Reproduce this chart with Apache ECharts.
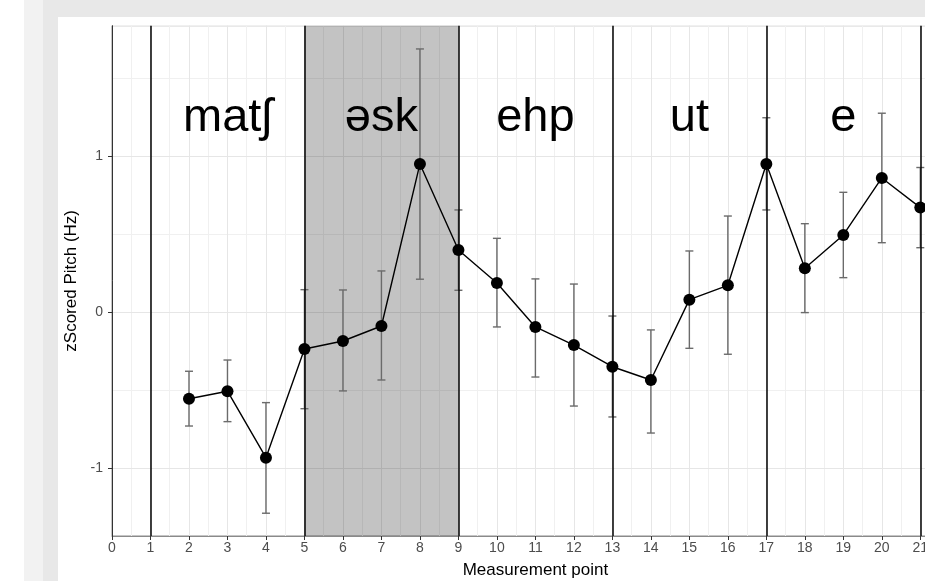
<!DOCTYPE html>
<html>
<head>
<meta charset="utf-8">
<script src="https://cdn.jsdelivr.net/npm/echarts@6/dist/echarts.min.js"></script>
<style>
  html, body { margin: 0; padding: 0; width: 925px; height: 581px; overflow: hidden; background: #ffffff; }
  #bg1 { position: absolute; left: 24px; top: 0; width: 901px; height: 581px; background: #f2f2f2; }
  #bg2 { position: absolute; left: 43px; top: 0; width: 882px; height: 581px; background: #e8e8e8; }
  #chart { position: absolute; left: 58px; top: 17px; width: 915px; height: 564px; background: #ffffff; }
</style>
</head>
<body>
<div id="bg1"></div>
<div id="bg2"></div>
<div id="chart"></div>
<script>
// ---- data ----
const measurementPoints = [2, 3, 4, 5, 6, 7, 8, 9, 10, 11, 12, 13, 14, 15, 16, 17, 18, 19, 20, 21];
const pitchMean = [-0.556, -0.508, -0.934, -0.237, -0.186, -0.090, 0.949, 0.397, 0.186, -0.096,
                   -0.212, -0.351, -0.436, 0.079, 0.171, 0.949, 0.280, 0.494, 0.859, 0.669];
const errHigh = [-0.380, -0.308, -0.581, 0.143, 0.141, 0.263, 1.686, 0.654, 0.472, 0.212,
                 0.179, -0.026, -0.115, 0.391, 0.615, 1.245, 0.566, 0.767, 1.274, 0.926];
const errLow = [-0.731, -0.703, -1.290, -0.620, -0.506, -0.436, 0.210, 0.139, -0.096, -0.417,
                -0.603, -0.673, -0.776, -0.233, -0.271, 0.654, -0.004, 0.220, 0.444, 0.412];
const boundaries = [1, 5, 9, 13, 17, 21];
const shadedSpan = [5, 9];
const syllables = ['matʃ', 'əsk', 'ehp', 'ut', 'e'];
const syllableX = [3, 7, 11, 15, 19];
const syllableY = [1.245, 1.245, 1.245, 1.245, 1.245];
const yTickValues = [-1, 0, 1];
const xRange = [0, 22];
const yRange = [-1.436, 1.835];

const FONT = "'Liberation Sans', Arial, Helvetica, sans-serif";

const chart = echarts.init(document.getElementById('chart'), null, { renderer: 'canvas' });

const lineData = measurementPoints.map((x, i) => [x, pitchMean[i]]);
const errData = measurementPoints.map((x, i) => [x, errLow[i], errHigh[i]]);
const labelData = syllables.map((s, i) => [syllableX[i], syllableY[i], s]);

const option = {
  animation: false,
  backgroundColor: '#ffffff',
  grid: {
    left: 54, right: 14.2, top: 8.7, bottom: 45,
    show: true, borderColor: '#8a8a8a', borderWidth: 1, backgroundColor: 'transparent',
    containLabel: false, outerBoundsMode: 'none'
  },
  xAxis: [{
    type: 'value', min: xRange[0], max: xRange[1], interval: 1,
    name: 'Measurement point', nameLocation: 'middle', nameGap: 26,
    nameTextStyle: { fontFamily: FONT, fontSize: 17, color: '#000000' },
    axisLine: { show: true, onZero: false, lineStyle: { color: '#8a8a8a', width: 1 } },
    axisTick: { show: true, length: 4, lineStyle: { color: '#333333', width: 1 } },
    axisLabel: { show: true, margin: 5, fontFamily: FONT, fontSize: 14, color: '#4d4d4d',
      formatter: v => (Number.isInteger(v) ? String(v) : '') },
    splitLine: { show: true, lineStyle: { color: '#e6e6e6', width: 1 } },
    minorTick: { show: false, splitNumber: 2 },
    minorSplitLine: { show: true, lineStyle: { color: '#f0f0f0', width: 1 } }
  }],
  yAxis: [{
    type: 'value', min: yRange[0], max: yRange[1], minInterval: 1, maxInterval: 1, z: 1,
    name: 'zScored Pitch (Hz)', nameLocation: 'middle', nameGap: 24,
    nameTextStyle: { fontFamily: FONT, fontSize: 17, color: '#000000' },
    axisLine: { show: true, onZero: false, lineStyle: { color: '#333333', width: 1 } },
    axisTick: { show: true, length: 4, customValues: yTickValues, lineStyle: { color: '#333333', width: 1 } },
    axisLabel: { show: true, margin: 9, fontFamily: FONT, fontSize: 14, color: '#4d4d4d',
      customValues: yTickValues,
      formatter: v => (Number.isInteger(v) ? String(v) : '') },
    splitLine: { show: true, lineStyle: { color: '#e6e6e6', width: 1 } }
  }, {
    type: 'value', min: yRange[0], max: yRange[1], minInterval: 0.5, maxInterval: 0.5, z: 0,
    position: 'left', offset: 0,
    axisLine: { show: false }, axisTick: { show: false }, axisLabel: { show: false },
    splitLine: { show: true, lineStyle: { color: '#f0f0f0', width: 1 } }
  }],
  series: [
    {
      type: 'line', data: [], z: 1, silent: true,
      markArea: {
        silent: true,
        itemStyle: { color: 'rgba(0,0,0,0.235)' },
        data: [[{ xAxis: shadedSpan[0] }, { xAxis: shadedSpan[1] }]]
      }
    },
    {
      type: 'line', data: [], z: 3, silent: true,
      markLine: {
        silent: true, symbol: ['none', 'none'],
        label: { show: false },
        lineStyle: { color: '#000000', width: 1.5, type: 'solid' },
        data: boundaries.map(b => ({ xAxis: b }))
      }
    },
    {
      type: 'custom', z: 4, silent: true,
      data: errData,
      renderItem: function (params, api) {
        const x = api.value(0);
        const lo = api.coord([x, api.value(1)]);
        const hi = api.coord([x, api.value(2)]);
        const cap = 4;
        const st = { stroke: '#6b6b6b', lineWidth: 1.4 };
        return {
          type: 'group',
          children: [
            { type: 'line', shape: { x1: hi[0], y1: hi[1], x2: lo[0], y2: lo[1] }, style: st },
            { type: 'line', shape: { x1: hi[0] - cap, y1: hi[1], x2: hi[0] + cap, y2: hi[1] }, style: st },
            { type: 'line', shape: { x1: lo[0] - cap, y1: lo[1], x2: lo[0] + cap, y2: lo[1] }, style: st }
          ]
        };
      }
    },
    {
      type: 'line', z: 5, silent: true,
      data: lineData,
      symbol: 'circle', symbolSize: 12, showSymbol: true,
      itemStyle: { color: '#000000' },
      lineStyle: { color: '#000000', width: 1.4 }
    },
    {
      type: 'custom', z: 6, silent: true,
      data: labelData,
      renderItem: function (params, api) {
        const p = api.coord([api.value(0), api.value(1)]);
        return {
          type: 'text',
          x: p[0], y: p[1],
          style: {
            text: labelData[params.dataIndex][2],
            fontFamily: FONT, fontSize: 47, fill: '#000000',
            align: 'center', verticalAlign: 'middle'
          }
        };
      }
    }
  ]
};
chart.setOption(option);
</script>
</body>
</html>
